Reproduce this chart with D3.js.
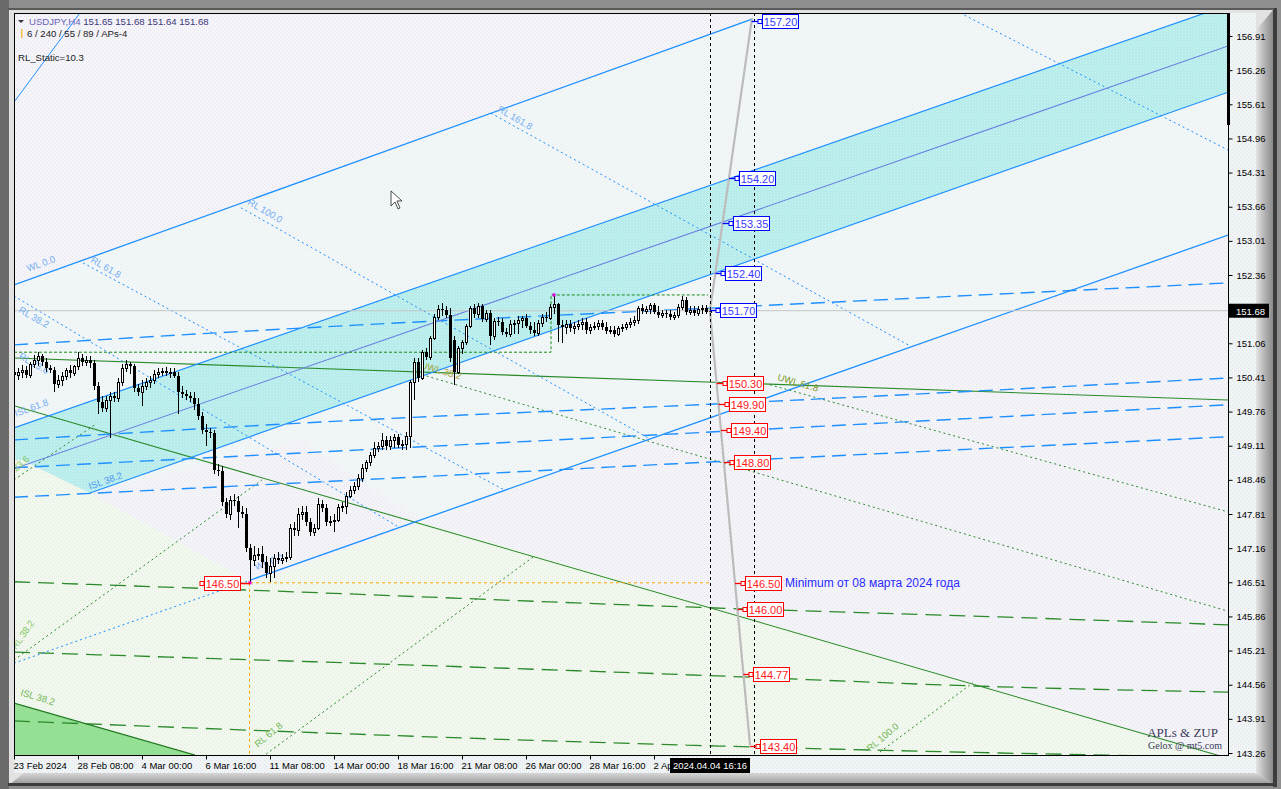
<!DOCTYPE html>
<html>
<head>
<meta charset="utf-8">
<script src="https://cdn.jsdelivr.net/npm/d3@7"></script>
<style>
  body { margin: 0; background: #8f8f8f; }
  svg { display: block; }
  text { font-family: "Liberation Sans", Arial, sans-serif; }
</style>
</head>
<body>
<svg></svg>
<script>
// ---- data ----
const priceTicks = [156.91,156.26,155.61,154.96,154.31,153.66,153.01,152.36,151.71,151.06,150.41,
                    149.76,149.11,148.46,147.81,147.16,146.51,145.86,145.21,144.56,143.91,143.26];
const timeIdx    = [0,16,32,48,64,80,96,112,128,144,160];
const timeLabels = ["23 Feb 2024","28 Feb 08:00","4 Mar 00:00","6 Mar 16:00","11 Mar 08:00","14 Mar 00:00",
                    "18 Mar 16:00","21 Mar 08:00","26 Mar 00:00","28 Mar 16:00","2 Apr 00:00"];

// H4 bars: [open, high, low, close]
const ohlc = [
[150.51,150.63,150.36,150.46],[150.46,150.59,150.36,150.51],[150.51,150.65,150.40,150.55],[150.55,150.63,150.40,150.46],
[150.46,150.70,150.40,150.66],[150.66,150.84,150.59,150.74],[150.74,150.89,150.63,150.82],[150.82,150.86,150.63,150.70],
[150.70,150.78,150.51,150.59],[150.59,150.65,150.49,150.55],[150.55,150.61,150.13,150.29],[150.29,150.46,150.21,150.36],
[150.36,150.51,150.25,150.44],[150.44,150.59,150.36,150.55],[150.55,150.65,150.40,150.49],[150.49,150.65,150.44,150.63],
[150.63,150.89,150.55,150.78],[150.78,150.86,150.63,150.70],[150.70,150.82,150.63,150.74],[150.74,150.82,150.59,150.68],
[150.68,150.74,150.17,150.25],[150.25,150.32,149.72,149.94],[149.94,150.06,149.75,149.83],[149.83,150.06,149.75,149.98],
[149.98,150.13,149.26,150.06],[150.06,150.13,149.94,150.02],[150.02,150.40,149.94,150.32],[150.32,150.66,150.25,150.59],
[150.59,150.74,150.51,150.66],[150.66,150.70,150.48,150.63],[150.63,150.66,150.13,150.21],[150.21,150.29,150.06,150.13],
[150.13,150.36,149.87,150.25],[150.25,150.40,150.17,150.32],[150.32,150.44,150.21,150.36],[150.36,150.55,150.29,150.48],
[150.48,150.59,150.40,150.51],[150.51,150.59,150.44,150.53],[150.53,150.61,150.44,150.49],[150.49,150.59,150.40,150.51],
[150.51,150.59,150.40,150.44],[150.44,150.51,149.72,150.13],[150.13,150.25,150.02,150.10],[150.10,150.17,149.98,150.06],
[150.06,150.13,149.94,150.02],[150.02,150.13,149.79,149.91],[149.91,150.02,149.60,149.68],[149.68,149.75,149.33,149.41],
[149.41,149.52,149.11,149.37],[149.37,149.45,149.26,149.35],[149.35,149.41,148.57,148.65],[148.65,148.76,148.53,148.63],
[148.63,148.72,147.96,148.04],[148.04,148.11,147.73,147.81],[147.81,148.15,147.70,148.08],[148.08,148.19,147.96,148.06],
[148.06,148.15,147.54,147.85],[147.85,147.96,147.73,147.81],[147.81,147.92,147.09,147.16],[147.16,147.24,146.50,146.93],
[146.93,147.20,146.82,147.03],[147.03,147.16,146.93,147.05],[147.05,147.20,146.78,146.90],[146.90,147.01,146.59,146.69],
[146.69,146.97,146.52,146.82],[146.82,147.05,146.59,146.97],[146.97,147.09,146.86,146.93],[146.93,147.05,146.86,146.97],
[146.97,147.09,146.90,146.99],[146.99,147.62,146.93,147.54],[147.54,147.66,147.39,147.51],[147.51,147.92,147.39,147.81],
[147.81,147.96,147.70,147.85],[147.85,147.96,147.58,147.66],[147.66,147.73,147.39,147.47],[147.47,147.62,147.39,147.54],
[147.54,148.11,147.51,148.00],[148.00,148.08,147.85,147.92],[147.92,148.00,147.58,147.66],[147.66,147.77,147.58,147.68],
[147.68,147.81,147.47,147.70],[147.70,148.00,147.66,147.94],[147.94,148.04,147.85,147.96],[147.96,148.23,147.81,148.15],
[148.15,148.34,148.11,148.27],[148.27,148.42,148.19,148.34],[148.34,148.57,148.27,148.50],[148.50,148.76,148.42,148.69],
[148.69,148.84,148.61,148.80],[148.80,148.99,148.72,148.94],[148.94,149.18,148.88,149.07],[149.07,149.18,148.99,149.11],
[149.11,149.35,149.03,149.22],[149.22,149.30,149.03,149.11],[149.11,149.30,149.03,149.22],[149.22,149.33,149.07,149.28],
[149.28,149.33,149.07,149.13],[149.13,149.22,149.03,149.15],[149.15,149.37,149.03,149.30],[149.30,150.36,149.07,150.32],
[150.32,150.78,149.98,150.70],[150.70,150.78,150.32,150.40],[150.40,150.93,150.36,150.89],[150.89,150.97,150.74,150.80],
[150.80,151.20,150.74,151.16],[151.16,151.62,151.12,151.56],[151.56,151.79,151.50,151.71],[151.71,151.83,151.58,151.69],
[151.69,151.77,151.54,151.60],[151.60,151.73,150.70,150.78],[151.12,151.20,150.27,150.51],[150.51,151.01,150.48,150.97],
[150.97,151.12,150.86,151.09],[151.09,151.43,151.03,151.39],[151.39,151.77,151.35,151.73],[151.73,151.81,151.54,151.62],
[151.62,151.83,151.54,151.77],[151.77,151.81,151.47,151.52],[151.52,151.69,151.47,151.64],[151.64,151.69,151.03,151.20],
[151.20,151.54,151.12,151.48],[151.48,151.56,151.39,151.47],[151.47,151.54,151.22,151.28],[151.28,151.35,151.18,151.24],
[151.24,151.50,151.18,151.43],[151.43,151.50,151.24,151.45],[151.45,151.58,151.24,151.50],[151.50,151.58,151.35,151.54],
[151.54,151.62,151.35,151.39],[151.39,151.47,151.24,151.31],[151.31,151.47,151.20,151.26],[151.26,151.50,151.20,151.45],
[151.45,151.62,151.37,151.56],[151.56,151.66,151.47,151.54],[151.54,151.81,151.50,151.75],[151.75,151.98,151.62,151.81],
[151.81,151.83,151.09,151.41],[151.41,151.50,151.07,151.37],[151.37,151.50,151.24,151.43],[151.43,151.50,151.28,151.35],
[151.35,151.47,151.24,151.39],[151.39,151.50,151.31,151.43],[151.43,151.54,151.31,151.47],[151.47,151.54,151.24,151.31],
[151.31,151.43,151.24,151.37],[151.37,151.47,151.31,151.39],[151.39,151.50,151.31,151.45],[151.45,151.50,151.31,151.37],
[151.37,151.47,151.24,151.29],[151.29,151.39,151.24,151.31],[151.31,151.39,151.18,151.24],[151.24,151.39,151.20,151.35],
[151.35,151.43,151.28,151.37],[151.37,151.47,151.31,151.43],[151.43,151.54,151.35,151.47],[151.47,151.58,151.39,151.50],
[151.50,151.77,151.43,151.73],[151.73,151.81,151.62,151.67],[151.67,151.77,151.62,151.71],[151.71,151.83,151.62,151.79],
[151.79,151.83,151.62,151.66],[151.66,151.77,151.54,151.60],[151.60,151.69,151.54,151.64],[151.64,151.69,151.54,151.62],
[151.62,151.69,151.50,151.56],[151.56,151.66,151.50,151.60],[151.60,151.81,151.54,151.75],[151.75,151.96,151.69,151.88],
[151.88,151.94,151.60,151.66],[151.66,151.77,151.60,151.69],[151.69,151.77,151.58,151.64],[151.64,151.77,151.58,151.71],
[151.71,151.79,151.62,151.73],[151.73,151.79,151.62,151.66],[151.66,151.73,151.62,151.68]
];

const bidPrice = 151.68;
const lastIdx = 174, cursorIdx = 185;
const minIdx = 59, minPrice = 146.50, maxIdx = 135;

// drawn objects, points are [bar index, price]
const bandUpper = [[0,149.45],[303.5,157.50]];
const bandMid   = [[0,148.67],[303.5,156.72]];
const bandLower = [[19,148.21],[303.5,155.84]];
const bandArea  = [[0,149.45],[303.5,157.50],[303.5,155.84],[19,148.21],[2,148.84],[0,148.84]];
const pinkArea  = [[0,152.17],[184.5,157.23],[186.5,157.40],[0,157.40]];
const lavLeft   = [[19,148.21],[59.5,146.50],[102,147.66],[71.5,149.22]];
const lavRight  = [[102,147.66],[303.5,153.12],[303.5,143.16]];
const greenArea = [[0,148.84],[2,148.84],[19,148.21],[59.5,146.50],[102,147.66],[303.5,143.16],[303.5,143.0],[0,143.0]];
const greenTri  = [[0,144.21],[45.25,143.22],[0,143.22]];

const upperRay  = [[0,152.17],[184.5,157.23]];
const steepRay  = [[0,155.65],[16.5,157.35]];
const chanSolid = [[59,146.55],[303.5,153.12]];
const chanDot   = [[0,144.97],[59,146.55]];
const rlDotted  = [
  [[17.25,152.59],[122.5,148.27]],
  [[56.75,153.64],[158.5,149.26]],
  [[119.25,155.44],[224,151.01]],
  [[0,151.96],[95.75,147.58]],
  [[236.5,157.35],[303.5,154.74]]
];
const blueDashed = [
  [[0,151.03],[86.5,151.41],[174,151.73],[303.5,152.21]],
  [[0,149.22],[86.5,149.60],[174,149.90],[303.5,150.40]],
  [[0,148.69],[86.5,149.03],[174,149.37],[303.5,149.89]],
  [[0,148.13],[86.5,148.46],[174,148.80],[303.5,149.28]]
];
const fallLine  = [[0,149.87],[303.5,143.16]];
const uwlLine   = [[0,150.78],[303.5,149.98]];
const greenRect = [[0,150.89],[134.25,150.89],[134.25,151.98],[173.5,151.98]];
const greenDashed = [
  [[0,146.52],[59,146.36],[168.25,146.04],[246.5,145.85],[303.5,145.70]],
  [[0,145.18],[168.25,144.75],[246.5,144.52],[303.5,144.42]],
  [[0,143.87],[168.25,143.41],[246.5,143.26],[303.5,143.18]]
];
const greenDotted = [
  [[0,145.03],[62,148.46]],
  [[0,148.46],[20.25,149.51]],
  [[62,143.18],[129.75,146.99]],
  [[216.5,143.28],[239.75,144.60]],
  [[100.75,150.49],[303.5,145.96]],
  [[189,150.27],[303.5,147.85]]
];
const grayUp   = [[174,151.69],[184.5,157.25]];
const grayDown = [[174,151.66],[184,143.41]];

const blueTags = [157.20,154.20,153.35,152.40,151.70];
const redTags  = [150.30,149.90,149.40,148.80,146.50,146.00,144.77,143.40];

const lineLabels = [
  {i:3.5,  p:152.42, a:-20, t:"WL 0.0",   c:"#74aef2"},
  {i:19,   p:152.61, a:30,  t:"RL 61.8",  c:"#74aef2"},
  {i:58.25,p:153.71, a:30,  t:"RL 100.0", c:"#74aef2"},
  {i:120.75,p:155.48,a:30,  t:"RL 161.8", c:"#74aef2"},
  {i:1,    p:151.66, a:30,  t:"RL 38.2",  c:"#74aef2"},
  {i:1,    p:150.78, a:30,  t:"RL 23.6",  c:"#74aef2"},
  {i:0.5,  p:149.66, a:-20, t:"ISL 61.8", c:"#74aef2"},
  {i:19,   p:148.27, a:-20, t:"ISL 38.2", c:"#4f98ee"},
  {i:60.5, p:146.74, a:-20, t:"WL 0.0",   c:"#74aef2"},
  {i:0.5,  p:148.61, a:-40, t:"23.6",     c:"#86c866"},
  {i:0.5,  p:145.22, a:-55, t:"RL 38.2",  c:"#86c866"},
  {i:1.5,  p:144.36, a:17,  t:"ISL 38.2", c:"#72b858"},
  {i:61,   p:143.36, a:-40, t:"RL 61.8",  c:"#72b858"},
  {i:214,  p:143.28, a:-40, t:"RL 100.0", c:"#72b858"},
  {i:190.75,p:150.36,a:16,  t:"UWL 61.8", c:"#7a9628"},
  {i:101.5,p:150.59, a:16,  t:"UWL 38.2", c:"#a2a436"}
];

// ---- layout ----
const W = 1281, H = 789;
const L = 14, T = 13, R = 1228, B = 755;

const x = d3.scaleLinear().domain([0, 303.5]).range([L, R]);
const y = d3.scaleLinear().domain([143.26, 156.91]).range([753, 36]);
const line  = d3.line().x(d => x(d[0])).y(d => y(d[1]));
const curve = d3.line().x(d => x(d[0])).y(d => y(d[1])).curve(d3.curveMonotoneX);

const svg = d3.select("svg").attr("width", W).attr("height", H);
const defs = svg.append("defs");

function dotPattern(id, bg, dot, step) {
  const p = defs.append("pattern").attr("id", id).attr("patternUnits", "userSpaceOnUse")
    .attr("width", step).attr("height", step);
  p.append("rect").attr("width", step).attr("height", step).attr("fill", bg);
  p.append("rect").attr("width", 1).attr("height", 1).attr("fill", dot);
  p.append("rect").attr("x", step / 2).attr("y", step / 2).attr("width", 1).attr("height", 1).attr("fill", dot);
}
dotPattern("pBase", "#f0f7f7", "#f3e6f2", 4);
dotPattern("pPink", "#f3f5f8", "#eedcf0", 4);
dotPattern("pCyan", "#b3ebeb", "#d9f6f6", 3);
dotPattern("pLav",  "#f3f4f7", "#ebdff0", 4);
dotPattern("pGreen","#f2f7ef", "#dcedd6", 4);
dotPattern("pAxis", "#eef5f5", "#efd9ee", 4);

const gv = defs.append("linearGradient").attr("id", "bevR");
gv.append("stop").attr("offset", 0).attr("stop-color", "#e4e4e4");
gv.append("stop").attr("offset", 0.5).attr("stop-color", "#b4b4b4");
gv.append("stop").attr("offset", 1).attr("stop-color", "#8a8a8a");
const gb = defs.append("linearGradient").attr("id", "bevB").attr("x2", 0).attr("y2", 1);
gb.append("stop").attr("offset", 0).attr("stop-color", "#d6d6d6");
gb.append("stop").attr("offset", 1).attr("stop-color", "#9a9a9a");

defs.append("clipPath").attr("id", "plot").append("rect")
  .attr("x", L).attr("y", T).attr("width", R - L).attr("height", B - T);
// time labels run under the cursor time box (local coords of the axis group)
defs.append("clipPath").attr("id", "timeClip").append("rect")
  .attr("x", 0).attr("y", -5).attr("width", x(lastIdx) - 40).attr("height", 30);

// window frame
svg.append("rect").attr("width", W).attr("height", H).attr("fill", "#8f8f8f");
svg.append("rect").attr("x", 0).attr("y", 0).attr("width", 9).attr("height", H).attr("fill", "#6a6a6a");
svg.append("rect").attr("x", 9).attr("y", 9).attr("width", 1264).attr("height", 775).attr("fill", "#e2e2e2");
svg.append("rect").attr("x", L).attr("y", B).attr("width", 1242).attr("height", 18).attr("fill", "url(#pAxis)");
svg.append("rect").attr("x", R).attr("y", T).attr("width", 28).attr("height", 760).attr("fill", "url(#pAxis)");
svg.append("polygon").attr("points", "1256,30 1273,10 1273,784 1256,773").attr("fill", "url(#bevR)");
svg.append("polygon").attr("points", "10,784 24,773 1256,773 1273,784").attr("fill", "url(#bevB)");
svg.append("rect").attr("x", 1273).attr("y", 8).attr("width", 4).attr("height", 779).attr("fill", "#3c3c3c");
svg.append("rect").attr("x", 8).attr("y", 783).attr("width", 1269).attr("height", 3).attr("fill", "#3c3c3c");
svg.append("rect").attr("x", 8).attr("y", 8).attr("width", 1266).attr("height", 2).attr("fill", "#5a5a5a");

// plot
const plot = svg.append("g").attr("clip-path", "url(#plot)");
plot.append("rect").attr("x", L).attr("y", T).attr("width", R - L).attr("height", B - T).attr("fill", "url(#pBase)");

const poly = (pts, fill) => plot.append("path").attr("d", line(pts) + "Z").attr("fill", fill);
poly(pinkArea, "url(#pPink)");
poly(greenArea, "url(#pGreen)");
poly(lavLeft, "url(#pLav)");
poly(lavRight, "url(#pLav)");
poly(bandArea, "url(#pCyan)");
poly(greenTri, "#96e096");

function draw(pts, color, width, dash, gen) {
  plot.append("path").attr("d", (gen || line)(pts)).attr("fill", "none")
    .attr("stroke", color).attr("stroke-width", width).attr("stroke-dasharray", dash || null);
}

// green set
greenDashed.forEach(d => draw(d, "#2a8a2a", 1.3, "16,8", curve));
greenDotted.forEach(d => draw(d, "#2a8a2a", 1, "2,3"));
draw(fallLine, "#2a8a2a", 1.1);
draw(uwlLine, "#2a8a2a", 1.1);
draw([[0,144.21],[45.25,143.22]], "#1f7a1f", 1.2);

// blue set
blueDashed.forEach(d => draw(d, "#1e90ff", 1.4, "14,7", curve));
rlDotted.forEach(d => draw(d, "#1e90ff", 1, "2,3"));
draw(upperRay, "#1e90ff", 1.3);
draw(steepRay, "#1e90ff", 1);
draw(chanSolid, "#1e90ff", 1.3);
draw(chanDot, "#1e90ff", 1, "2,3");
draw(bandUpper, "#1e90ff", 1.2);
draw(bandLower, "#1e90ff", 1.2);
draw(bandMid, "#6a80e0", 1.1);
draw(greenRect, "#1a8a1a", 1, "3,2");

// bid line
plot.append("line").attr("x1", L).attr("x2", R).attr("y1", y(bidPrice)).attr("y2", y(bidPrice))
  .attr("stroke", "#c4c4c4").attr("stroke-width", 1);

// orange marks of the minimum
plot.append("line").attr("x1", x(minIdx)).attr("x2", x(lastIdx)).attr("y1", y(minPrice)).attr("y2", y(minPrice))
  .attr("stroke", "#ffa500").attr("stroke-dasharray", "3,3");
plot.append("line").attr("x1", x(minIdx) - 0.5).attr("x2", x(minIdx) - 0.5).attr("y1", y(minPrice)).attr("y2", B)
  .attr("stroke", "#ffa500").attr("stroke-dasharray", "3,3");

// line labels
plot.selectAll("text.lbl").data(lineLabels).join("text").attr("class", "lbl")
  .attr("transform", d => `translate(${x(d.i)},${y(d.p)}) rotate(${d.a})`)
  .attr("font-size", 9.5).attr("fill", d => d.c).text(d => d.t);

// candles
const cg = plot.append("g").attr("shape-rendering", "crispEdges");
ohlc.forEach((d, i) => {
  const cx = Math.round(x(i));
  const [o, h, l, c] = d;
  cg.append("line").attr("x1", cx + 0.5).attr("x2", cx + 0.5).attr("y1", y(h)).attr("y2", y(l)).attr("stroke", "#000");
  const top = y(Math.max(o, c)), bot = y(Math.min(o, c));
  if (bot - top < 1) {
    cg.append("line").attr("x1", cx - 1).attr("x2", cx + 2).attr("y1", Math.round(top) + 0.5).attr("y2", Math.round(top) + 0.5).attr("stroke", "#000");
  } else if (c >= o) {
    cg.append("rect").attr("x", cx - 0.5).attr("y", Math.round(top) + 0.5).attr("width", 2)
      .attr("height", Math.max(1, Math.round(bot - top))).attr("fill", "#fff").attr("stroke", "#000");
  } else {
    cg.append("rect").attr("x", cx - 1).attr("y", Math.round(top)).attr("width", 3)
      .attr("height", Math.max(1, Math.round(bot - top))).attr("fill", "#000");
  }
});

// gray projection and time verticals
draw(grayUp, "#bcbcbc", 2.2);
draw(grayDown, "#bcbcbc", 2.2);
[lastIdx, cursorIdx].forEach(i => {
  plot.append("line").attr("x1", x(i) + 0.5).attr("x2", x(i) + 0.5).attr("y1", T).attr("y2", B)
    .attr("stroke", "#000").attr("stroke-dasharray", "3,3");
});

// magenta points
[[minIdx, minPrice], [maxIdx, ohlc[maxIdx][1]]].forEach(d => {
  plot.append("rect").attr("x", x(d[0]) - 1.5).attr("y", y(d[1]) - 1.5).attr("width", 3).attr("height", 3).attr("fill", "#e000e0");
});

// price tags anchored to the gray projection
function grayIdxAt(p) {
  const s = p >= bidPrice ? grayUp : grayDown;
  const t = (p - s[0][1]) / (s[1][1] - s[0][1]);
  return s[0][0] + t * (s[1][0] - s[0][0]);
}
function tag(p, color, textColor, x0, connFrom) {
  const yy = Math.round(y(p)) + 0.5;
  plot.append("line").attr("x1", connFrom).attr("x2", x0).attr("y1", yy).attr("y2", yy).attr("stroke", color).attr("stroke-width", 1.3);
  plot.append("rect").attr("x", x0 - 4).attr("y", yy - 2).attr("width", 4).attr("height", 4).attr("fill", "#fff").attr("stroke", color);
  plot.append("rect").attr("x", x0 + 0.5).attr("y", yy - 7).attr("width", 36).attr("height", 14).attr("fill", "#fff").attr("stroke", color);
  plot.append("text").attr("x", x0 + 18.5).attr("y", yy + 4).attr("text-anchor", "middle")
    .attr("font-size", 11).attr("fill", textColor).text(p.toFixed(2));
}
blueTags.forEach(p => { const gx = x(grayIdxAt(p)); tag(p, "#0000ff", "#3a3aff", Math.round(gx) + 10, gx); });
redTags.forEach(p => { const gx = x(grayIdxAt(p)); tag(p, "#ff0000", "#ff2020", Math.round(gx) + 10, gx); });
tag(minPrice, "#ff0000", "#ff2020", Math.round(x(minIdx)) - 46, x(minIdx));
{
  const gx = Math.round(x(grayIdxAt(minPrice))) + 10;
  plot.append("text").attr("x", gx + 40).attr("y", y(minPrice) + 4.5).attr("font-size", 12)
    .attr("fill", "#2a2aff").text("Minimum от 08 марта 2024 года");
}

// signature
plot.append("text").attr("x", 1218).attr("y", 737).attr("text-anchor", "end")
  .style("font-family", "'Liberation Serif', 'DejaVu Serif', serif").attr("font-size", 13).attr("fill", "#3a3a5a").text("APLs & ZUP");
plot.append("text").attr("x", 1222).attr("y", 749).attr("text-anchor", "end")
  .style("font-family", "'Liberation Serif', 'DejaVu Serif', serif").attr("font-size", 10).attr("fill", "#3a3a5a").text("Gelox @ mt5.com");

// mouse pointer
plot.append("path").attr("transform", `translate(${x(94.25)},${y(153.96)})`)
  .attr("d", "M0,0 L0,15 L4,11 L7,18 L9,17 L6,10 L11,10 Z").attr("fill", "#fff").attr("stroke", "#222").attr("stroke-width", 0.8);

// header texts
const hdr = svg.append("g").attr("font-size", 9.6);
hdr.append("path").attr("d", "M18,20 L24,20 L21,23 Z").attr("fill", "#333");
const t1 = hdr.append("text").attr("x", 29).attr("y", 25);
t1.append("tspan").attr("fill", "#6a64b8").text("USDJPY,H4");
t1.append("tspan").attr("fill", "#3a3a78").text("  151.65 151.68 151.64 151.68");
hdr.append("rect").attr("x", 21).attr("y", 29).attr("width", 1.5).attr("height", 9).attr("fill", "#f0c040");
hdr.append("text").attr("x", 27).attr("y", 37).attr("fill", "#222").text("6 / 240 / 55 / 89 / APs-4");
hdr.append("text").attr("x", 18).attr("y", 61).attr("fill", "#222").text("RL_Static=10.3");

// plot border and right marker
svg.append("rect").attr("x", L + 0.5).attr("y", T + 0.5).attr("width", R - L).attr("height", B - T)
  .attr("fill", "none").attr("stroke", "#000");
svg.append("rect").attr("x", R - 1).attr("y", T).attr("width", 3).attr("height", 112).attr("fill", "#000");

// axes
const yAxis = svg.append("g").attr("transform", `translate(${R + 0.5},0)`)
  .call(d3.axisRight(y).tickValues(priceTicks).tickFormat(d3.format(".2f")).tickSize(4).tickPadding(4));
yAxis.select(".domain").remove();
yAxis.selectAll("text").attr("font-size", 9.5).attr("fill", "#000").style("font-family", "'Liberation Sans', Arial, sans-serif");

const xAxis = svg.append("g").attr("transform", `translate(0,${B + 0.5})`).attr("clip-path", "url(#timeClip)")
  .call(d3.axisBottom(x).tickValues(timeIdx).tickFormat((d, i) => timeLabels[i]).tickSize(4).tickPadding(3));
xAxis.select(".domain").remove();
xAxis.selectAll("text").attr("text-anchor", "start").attr("dx", -1).attr("font-size", 9.5).attr("fill", "#000")
  .style("font-family", "'Liberation Sans', Arial, sans-serif");

// current price and cursor time boxes
svg.append("rect").attr("x", R + 1).attr("y", y(bidPrice) - 7).attr("width", 40).attr("height", 14).attr("fill", "#000");
svg.append("text").attr("x", R + 8).attr("y", y(bidPrice) + 4).attr("font-size", 9.5).attr("fill", "#fff").text(bidPrice.toFixed(2));
svg.append("rect").attr("x", x(lastIdx) - 40).attr("y", B + 3).attr("width", 80).attr("height", 15).attr("fill", "#000");
svg.append("text").attr("x", x(lastIdx)).attr("y", B + 14).attr("text-anchor", "middle").attr("font-size", 9.5)
  .attr("fill", "#fff").text("2024.04.04 16:16");
</script>
</body>
</html>
